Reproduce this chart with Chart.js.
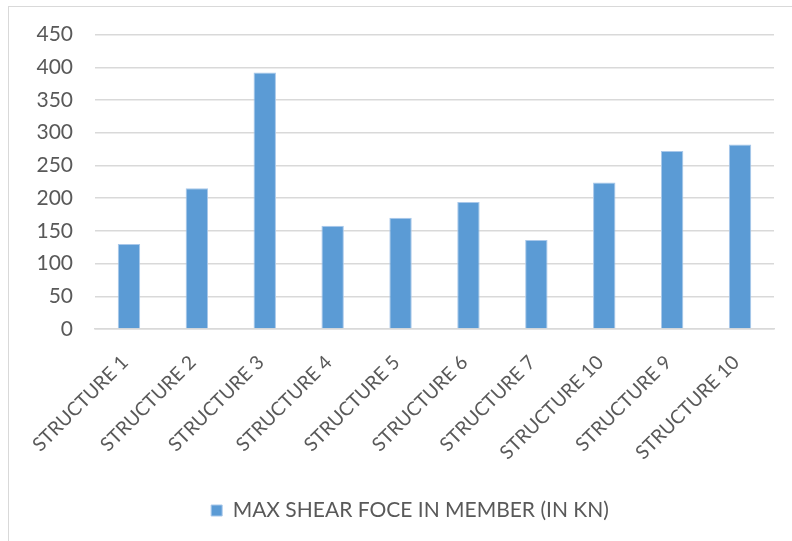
<!DOCTYPE html>
<html>
<head>
<meta charset="utf-8">
<script src="https://cdn.jsdelivr.net/npm/chart.js@4"></script>
<style>
  html, body { margin: 0; padding: 0; background: #fff; }
  #wrap { position: relative; width: 792px; height: 541px; overflow: hidden; }
  #frame { position: absolute; left: 8px; top: 6px; width: 900px; height: 700px; border: 1px solid #d9d9d9; }
  canvas { position: absolute; left: 0; top: 0; }
</style>
</head>
<body>
<div id="wrap">
  <div id="frame"></div>
  <canvas id="shearChart" width="792" height="541"></canvas>
</div>
<script>
// chart data
const structures = ['STRUCTURE 1', 'STRUCTURE 2', 'STRUCTURE 3', 'STRUCTURE 4', 'STRUCTURE 5',
  'STRUCTURE 6', 'STRUCTURE 7', 'STRUCTURE 10', 'STRUCTURE 9', 'STRUCTURE 10'];
const maxShear = [130, 215, 392, 158, 170, 194, 136, 224, 272, 282];
const seriesName = 'MAX SHEAR FOCE IN MEMBER (IN KN)';
const yMax = 450;
const yStep = 50;

const textColor = '#595959';
const fontFamily = 'Lato, "Liberation Sans", sans-serif';

// legend sits a bit right of the canvas centre in the original
const legendShift = {
  id: 'legendShift',
  afterLayout(chart) {
    chart.legend.left += 23;
    chart.legend.right += 23;
  }
};

const ctx = document.getElementById('shearChart').getContext('2d');
const shearChart = new Chart(ctx, {
  type: 'bar',
  data: {
    labels: structures,
    datasets: [{
      label: seriesName,
      data: maxShear,
      backgroundColor: '#5b9bd5',
      borderColor: '#a9c8ea',
      borderWidth: 1,
      categoryPercentage: 1,
      barPercentage: 0.33
    }]
  },
  plugins: [legendShift],
  options: {
    responsive: false,
    animation: false,
    layout: { padding: { top: 27, right: 18, bottom: 10, left: 0 } },
    plugins: {
      tooltip: { enabled: false },
      legend: {
        position: 'bottom',
        labels: {
          boxWidth: 11,
          boxHeight: 11,
          color: textColor,
          padding: 12,
          font: { family: fontFamily, size: 21 }
        }
      }
    },
    scales: {
      x: {
        grid: { display: false },
        border: { color: '#d9d9d9', width: 1.5 },
        ticks: {
          color: textColor,
          minRotation: 45,
          maxRotation: 45,
          padding: 14,
          labelOffset: -4,
          font: { family: fontFamily, size: 19.3 }
        },
        afterFit: (scale) => { scale.height = 159; }
      },
      y: {
        min: 0,
        max: yMax,
        grid: { color: '#d9d9d9', lineWidth: 1.5, drawTicks: false },
        border: { display: false },
        ticks: {
          stepSize: yStep,
          color: textColor,
          padding: 22,
          font: { family: fontFamily, size: 21 }
        },
        afterFit: (scale) => { scale.width = 95; }
      }
    }
  }
});
</script>
</body>
</html>
